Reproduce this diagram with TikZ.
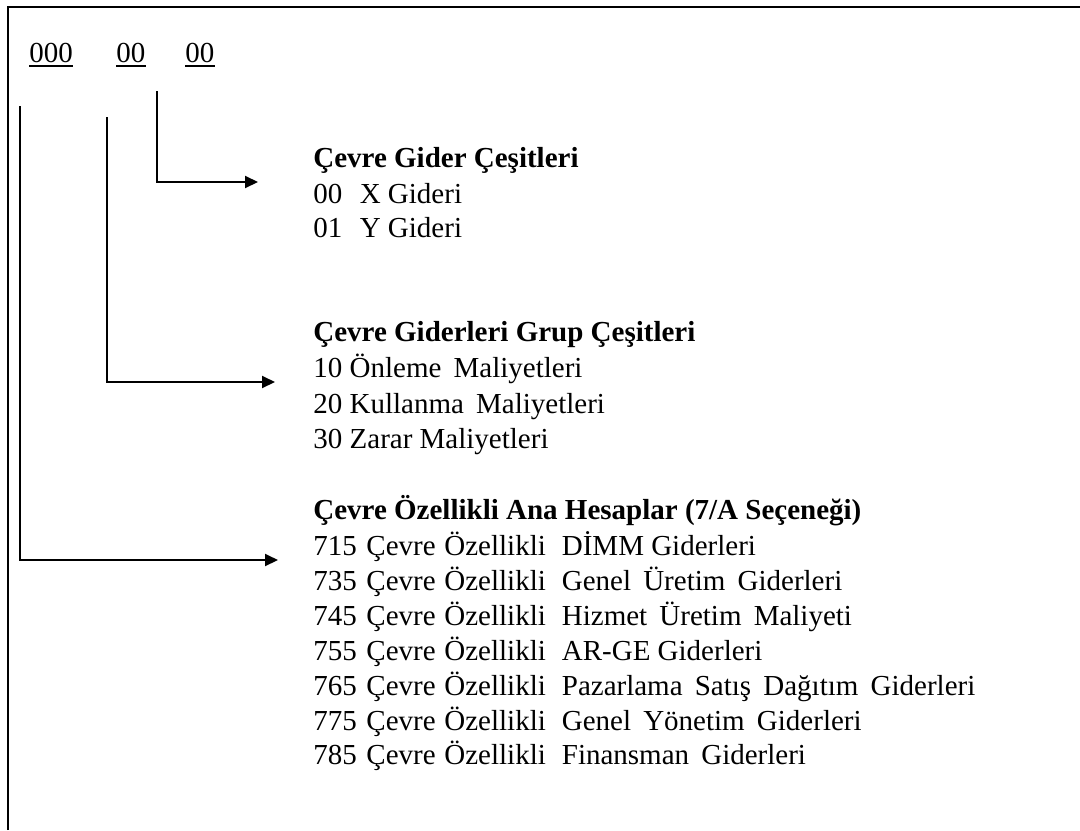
\documentclass[tikz,border=0pt]{standalone}
\usepackage{fontspec}
\setmainfont{Liberation Serif}
\usetikzlibrary{arrows.meta}
\newcommand\GapN{\hspace{0.33em}}
\newcommand\GapC{\hspace{0.3em}}
\newcommand\GapO{\hspace{0.55em}}
\newcommand\GapW{\hspace{0.42em}}
\begin{document}
\begin{tikzpicture}[x=0.5pt,y=-0.5pt,
  txt/.style={anchor=base west,inner sep=0pt,font=\fontsize{14.5pt}{17pt}\selectfont},
  hd/.style={anchor=base west,inner sep=0pt,font=\fontsize{14.5pt}{17pt}\selectfont\bfseries},
  conn/.style={line width=1pt,-{Triangle[length=6.5pt,width=6pt]}},
  uline/.style={line width=0.9pt},
  framestyle/.style={line width=1pt}]
\useasboundingbox (0,0) rectangle (1080,830);
\draw[framestyle] (8,830) -- (8,7) -- (1080,7);
% code digits
\node[txt] (c1) at (29,62) {000};
\node[txt] (c2) at (116,62) {00};
\node[txt] (c3) at (185,62) {00};
\foreach \n in {c1,c2,c3}{
  \draw[uline] ([yshift=-1.8pt]\n.base west) -- ([yshift=-1.8pt]\n.base east);
}
% group 1
\node[hd] (h1) at (313,167) {Çevre Gider Çeşitleri};
\node[txt] (g1a) at (313,203) {\makebox[1.6em][l]{00}X Gideri};
\node[txt] (g1b) at (313,237) {\makebox[1.6em][l]{01}Y Gideri};
% group 2
\node[hd] (h2) at (313,341) {Çevre Giderleri Grup Çeşitleri};
\node[txt] (g2a) at (313,377) {10 Önleme\GapW Maliyetleri};
\node[txt] (g2b) at (313,413) {20 Kullanma\GapW Maliyetleri};
\node[txt] (g2c) at (313,448) {30 Zarar Maliyetleri};
% group 3
\node[hd] (h3) at (313,519) {Çevre Özellikli Ana Hesaplar (7/A Seçeneği)};
\node[txt] (g3a) at (313,555) {715\GapN Çevre\GapC Özellikli\GapO DİMM Giderleri};
\node[txt] (g3b) at (313,590) {735\GapN Çevre\GapC Özellikli\GapO Genel\GapW Üretim\GapW Giderleri};
\node[txt] (g3c) at (313,625) {745\GapN Çevre\GapC Özellikli\GapO Hizmet\GapW Üretim\GapW Maliyeti};
\node[txt] (g3d) at (313,660) {755\GapN Çevre\GapC Özellikli\GapO AR-GE Giderleri};
\node[txt] (g3e) at (313,695) {765\GapN Çevre\GapC Özellikli\GapO Pazarlama\GapW Satış\GapW Dağıtım\GapW Giderleri};
\node[txt] (g3f) at (313,730) {775\GapN Çevre\GapC Özellikli\GapO Genel\GapW Yönetim\GapW Giderleri};
\node[txt] (g3g) at (313,764) {785\GapN Çevre\GapC Özellikli\GapO Finansman\GapW Giderleri};
% connectors
\coordinate (s3) at (157,91);
\coordinate (e3) at (258,182);
\coordinate (s2) at (107,117);
\coordinate (e2) at (275,382);
\coordinate (s1) at (20,106);
\coordinate (e1) at (278,560);
\draw[conn] (s3) |- (e3);
\draw[conn] (s2) |- (e2);
\draw[conn] (s1) |- (e1);
\end{tikzpicture}
\end{document}
